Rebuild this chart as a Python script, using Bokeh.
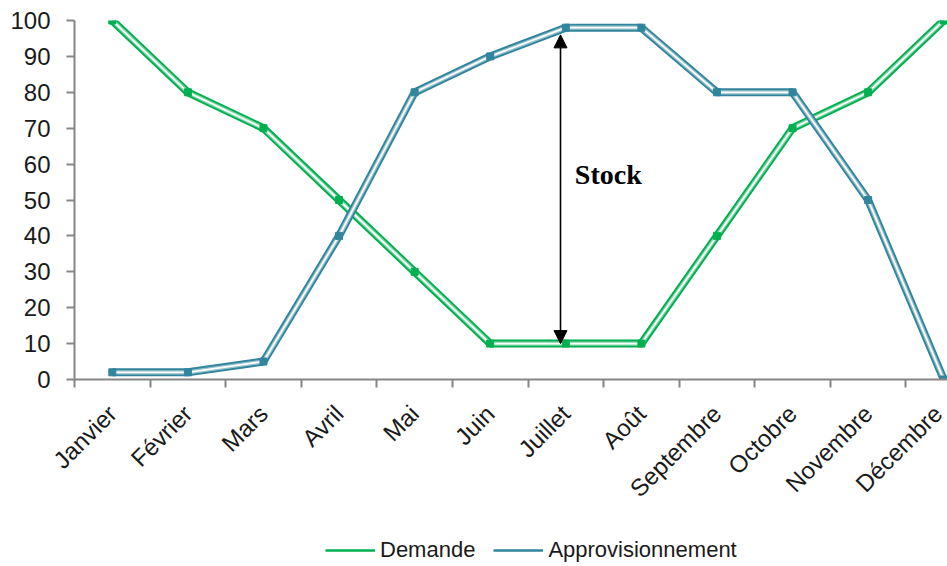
import math
from bokeh.plotting import figure
from bokeh.layouts import column
from bokeh.models import (Range1d, FixedTicker, Legend, LegendItem, Arrow,
                          NormalHead, Label)
from bokeh.embed import file_html
from bokeh.resources import INLINE

# ---- data ----
months = ["Janvier", "Février", "Mars", "Avril", "Mai", "Juin", "Juillet",
          "Août", "Septembre", "Octobre", "Novembre", "Décembre"]
demande = [100, 80, 70, 50, 30, 10, 10, 10, 40, 70, 80, 100]
approvisionnement = [2, 2, 5, 40, 80, 90, 98, 98, 80, 80, 50, 0]
y_ticks = [0, 10, 20, 30, 40, 50, 60, 70, 80, 90, 100]
series_names = ["Demande", "Approvisionnement"]

GREEN = "#00B050"
GREEN_L = "#7fd6a6"
TEAL = "#31859C"
TEAL_L = "#97c1cd"
AXIS = "#868686"
TXT = "#1a1a1a"
FONT = "Liberation Sans"

x = list(range(len(months)))

p = figure(width=947, height=520, output_backend="svg", toolbar_location=None,
           x_range=Range1d(-0.5, 11.05), y_range=Range1d(0, 100),
           min_border_left=74, min_border_right=0, min_border_top=20,
           min_border_bottom=141)
p.outline_line_color = None
p.grid.visible = False
p.background_fill_color = "white"
p.border_fill_color = "white"

# double-line series
for ys, col, col_l in ((demande, GREEN, GREEN_L), (approvisionnement, TEAL, TEAL_L)):
    p.line(x, ys, line_width=8, line_color=col)
    p.line(x, ys, line_width=4.2, line_color=col_l)
    p.line(x, ys, line_width=1.8, line_color="white")
    p.scatter(x, ys, marker="square", size=7, fill_color=col, line_color=col)

# arrow "Stock"
j = months.index("Juillet")
xa = j - 0.07
p.add_layout(Arrow(start=NormalHead(size=13, fill_color="black", line_color="black"),
                   end=NormalHead(size=13, fill_color="black", line_color="black"),
                   x_start=xa, y_start=demande[j], x_end=xa,
                   y_end=approvisionnement[j] - 2,
                   line_color="black", line_width=1.6))
p.add_layout(Label(x=j + 0.12, y=57, text="Stock", text_font="Liberation Serif",
                   text_font_style="bold", text_font_size="28px",
                   text_baseline="middle", text_color="black"))

# axes
xa_ = p.xaxis[0]
xa_.ticker = FixedTicker(ticks=x, minor_ticks=[i - 0.5 for i in range(len(months) + 1)])
xa_.major_label_overrides = {i: m for i, m in enumerate(months)}
xa_.major_label_orientation = math.pi / 4
xa_.major_tick_line_color = None
xa_.major_tick_out = 8
xa_.major_tick_in = 0
xa_.minor_tick_line_color = AXIS
xa_.minor_tick_line_width = 2
xa_.minor_tick_out = 8
xa_.minor_tick_in = 0
xa_.major_label_standoff = 22

ya = p.yaxis[0]
ya.ticker = FixedTicker(ticks=y_ticks, minor_ticks=[])
ya.major_tick_out = 8
ya.major_tick_in = 0
ya.major_tick_line_color = AXIS
ya.major_tick_line_width = 2
ya.minor_tick_line_color = None
ya.major_label_standoff = 16

for ax in (xa_, ya):
    ax.axis_line_color = AXIS
    ax.axis_line_width = 2
    ax.major_label_text_font = FONT
    ax.major_label_text_font_size = "24px"
    ax.major_label_text_color = TXT

# legend strip below the chart
pl = figure(width=947, height=46, output_backend="svg", toolbar_location=None,
            x_range=Range1d(0, 1), y_range=Range1d(0, 1),
            x_axis_type=None, y_axis_type=None,
            min_border_left=0, min_border_right=0, min_border_top=0,
            min_border_bottom=0)
pl.outline_line_color = None
pl.grid.visible = False
# off-range samples, only used for the legend swatches
r1 = pl.line([-5, -4], [-5, -5], line_width=2.5, line_color=GREEN)
r2 = pl.line([-5, -4], [-5, -5], line_width=2.5, line_color=TEAL)
legend = Legend(items=[LegendItem(label=series_names[0], renderers=[r1]),
                       LegendItem(label=series_names[1], renderers=[r2])],
                orientation="horizontal", location=(251, 3),
                label_text_font=FONT, label_text_font_size="22px",
                label_text_color=TXT, glyph_width=50, glyph_height=20,
                label_standoff=5, spacing=18, padding=4, margin=0,
                border_line_color=None, background_fill_alpha=0)
pl.add_layout(legend, "center")

layout = column(p, pl, spacing=0)
open("out.html", "w").write(file_html(layout, INLINE))
